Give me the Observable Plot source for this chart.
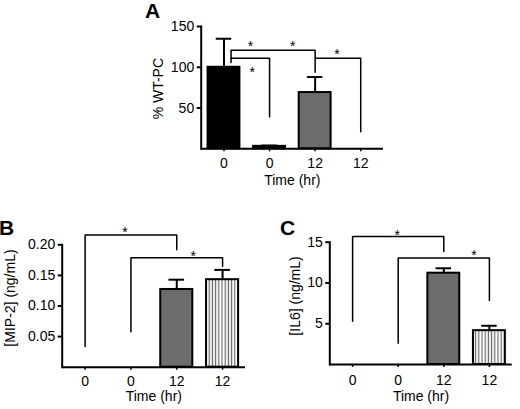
<!DOCTYPE html>
<html lang="en">
<head>
<meta charset="UTF-8">
<script src="https://cdn.jsdelivr.net/npm/d3@7"></script>
<script src="https://cdn.jsdelivr.net/npm/@observablehq/plot@0.6"></script>
<style>
    body { margin: 0; background: white; font-family: "Liberation Sans", Arial, sans-serif; }
    #page { position: relative; width: 520px; height: 409px; overflow: hidden; }
    .panel { position: absolute; }
    .letter { position: absolute; z-index: 2; font-weight: bold; font-size: 21px; line-height: 1; }
</style>
<title>Time course</title>
</head>
<body>
<svg width="0" height="0" style="position:absolute">
    <defs>
        <pattern id="vstripes" width="3.2" height="10" patternUnits="userSpaceOnUse">
            <rect width="3.2" height="10" fill="white"></rect>
            <line x1="1.2" x2="1.2" y1="0" y2="10" stroke="#666" stroke-width="1.2"></line>
        </pattern>
    </defs>
</svg>
<div id="page">
    <div id="panelA" class="panel" style="left:130px;top:0px"></div>
    <div id="panelB" class="panel" style="left:0px;top:200px"></div>
    <div id="panelC" class="panel" style="left:260px;top:200px"></div>
    <div class="letter" style="left:145px;top:0px">A</div>
    <div class="letter" style="left:-1px;top:217px">B</div>
    <div class="letter" style="left:280px;top:217px">C</div>
</div>
<script>
// tick labels along x (hours)
const timeLabels = ["0", "0", "12", "12"];

// panel A: % WT-PC
const wtpcMean = [100, 3, 69, 0];
const wtpcSem = [35, 1, 19, 0];
// panel B: MIP-2 (ng/mL)
const mip2Mean = [0, 0, 0.127, 0.143];
const mip2Sem = [0, 0, 0.016, 0.016];
// panel C: IL6 (ng/mL)
const il6Mean = [0, 0, 11.2, 4.15];
const il6Sem = [0, 0, 0.6, 0.6];

// significance brackets: [from, to, top, left end, right end]
const bracketsA = [[0.155, 2, 121, 106, 94], [0.155, 1, 111, 111, 39], [2, 3, 111, 111, 21]];
const starsA = [[0.58, 130], [1.51, 130], [0.62, 99], [2.48, 120]];
const bracketsB = [[0, 2, 0.216, 0.034, 0.192], [1, 3, 0.179, 0.058, 0.165]];
const starsB = [[0.87, 0.227], [2.36, 0.188]];
const bracketsC = [[0, 2, 15.7, 5.3, 13.85], [1, 3, 13.07, 2.6, 7.84]];
const starsC = [[0.98, 16.3], [2.66, 13.85]];

const gray = "#6c6c6c";

function panel(o) {
    const idx = d3.range(o.mean.length).filter(i => o.mean[i] > 0);
    const lines = o.brackets.flatMap((b, k) => [
        {k, x: b[0], y: b[3]}, {k, x: b[0], y: b[2]},
        {k, x: b[1], y: b[2]}, {k, x: b[1], y: b[4]}
    ]);
    return Plot.plot({
        width: o.width,
        height: o.height,
        marginLeft: o.m[0], marginRight: o.m[1], marginTop: o.m[2], marginBottom: o.m[3],
        style: {fontFamily: "Liberation Sans, Arial, sans-serif", fontSize: "14px", color: "black", background: "white", overflow: "visible"},
        x: {domain: [-0.5, 3.5]},
        y: {domain: o.yDomain},
        color: {type: "identity"},
        marks: [
            Plot.ruleX(idx, {x: i => i, y1: i => o.mean[i], y2: i => o.mean[i] + o.sem[i], strokeWidth: 2}),
            Plot.ruleY(idx, {x1: i => i - 0.17, x2: i => i + 0.17, y: i => o.mean[i] + o.sem[i], strokeWidth: 2}),
            Plot.rect(idx, {x1: i => i - 0.35, x2: i => i + 0.35, y1: 0, y2: i => o.mean[i], fill: i => o.fills[i], stroke: "black", strokeWidth: 2}),
            Plot.line(lines, {x: "x", y: "y", z: "k", strokeWidth: 1.5}),
            Plot.text(o.stars, {x: d => d[0], y: d => d[1], text: () => "*", fontSize: 14, dy: 4}),
            Plot.ruleY([0], {strokeWidth: 2}),
            Plot.frame({anchor: "left", strokeWidth: 2}),
            Plot.axisX({ticks: [0, 1, 2, 3], tickFormat: i => timeLabels[i], tickSize: 3, strokeWidth: 1.5, tickPadding: o.xPad, label: null}),
            Plot.axisY({ticks: o.yTicks, tickFormat: o.yFormat, tickSize: 4, tickPadding: 3, strokeWidth: 2, label: null}),
            Plot.text(["Time (hr)"], {frameAnchor: "bottom", textAnchor: "middle", dy: o.xLabelDy}),
            Plot.text([o.yLabel], {frameAnchor: "left", textAnchor: "middle", rotate: -90, dx: o.yLabelDx, dy: o.yLabelDy})
        ]
    });
}

document.querySelector("#panelA").append(panel({
    mean: wtpcMean, sem: wtpcSem, fills: ["black", "black", gray, "white"],
    yDomain: [0, 150], yTicks: [50, 100, 150], yFormat: d3.format("d"), yLabel: "% WT-PC",
    brackets: bracketsA, stars: starsA,
    width: 260, height: 195, m: [70.7, 7, 26, 46.7],
    xPad: 6, xLabelDy: 36, yLabelDx: -42.5, yLabelDy: 1
}));

document.querySelector("#panelB").append(panel({
    mean: mip2Mean, sem: mip2Sem, fills: ["white", "white", gray, "url(#vstripes)"],
    yDomain: [0, 0.2], yTicks: [0.05, 0.1, 0.15, 0.2], yFormat: d3.format(".2f"), yLabel: "[MIP-2] (ng/mL)",
    brackets: bracketsB, stars: starsB,
    width: 260, height: 209, m: [61.7, 15, 44.3, 42.3],
    xPad: 6, xLabelDy: 34, yLabelDx: -51.7, yLabelDy: -8
}));

document.querySelector("#panelC").append(panel({
    mean: il6Mean, sem: il6Sem, fills: ["white", "white", gray, "url(#vstripes)"],
    yDomain: [0, 15], yTicks: [5, 10, 15], yFormat: d3.format("d"), yLabel: "[IL6] (ng/mL)",
    brackets: bracketsC, stars: starsC,
    width: 260, height: 209, m: [69.3, 8.3, 41.7, 45],
    xPad: 8, xLabelDy: 36.5, yLabelDx: -34.3, yLabelDy: -7.4
}));
</script>
</body>
</html>
